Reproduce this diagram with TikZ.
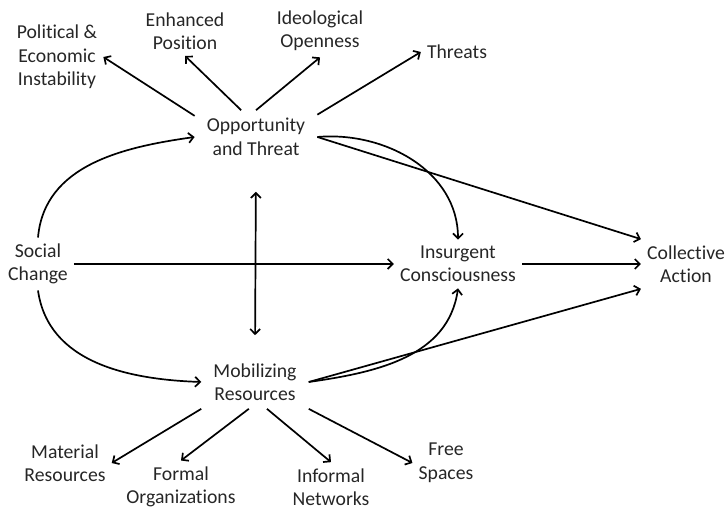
\documentclass[tikz,border=0pt]{standalone}
\usepackage{fontspec}
\setmainfont{Carlito}[Ligatures=NoCommon]
\usepackage{tikz}
\usetikzlibrary{arrows.meta}
\usepackage{xcolor}
\definecolor{labelgrey}{HTML}{262626}
\tikzset{
    leaf-box/.style = {align=center, inner sep=6pt, text=labelgrey, font=\fontsize{19.7}{23.5}\selectfont},
    hub-box/.style = {leaf-box, inner xsep=12pt, inner ysep=8pt},
    flow-arrow/.style = {-{Straight Barb[length=5pt,width=10pt]}, line width=1.7pt},
    both-arrow/.style = {{Straight Barb[length=5pt,width=10pt]}-{Straight Barb[length=5pt,width=10pt]}, line width=1.7pt},
}
\begin{document}
\begin{tikzpicture}[x=1pt, y=1pt]
\useasboundingbox (0,0) rectangle (726,511);
\node [leaf-box] (pol) at (57,454) {Political \&\\Economic\\Instability};
\node [leaf-box] (enh) at (185,480) {Enhanced\\Position};
\node [leaf-box] (ideo) at (320,480) {Ideological\\Openness};
\node [leaf-box] (thr) at (457,459) {Threats};
\node [hub-box] (opp) at (256,374) {Opportunity\\and Threat};
\node [leaf-box] (soc) at (38,247) {Social\\Change};
\node [leaf-box] (ins) at (458,247) {Insurgent\\Consciousness};
\node [leaf-box] (coll) at (686,247) {Collective\\Action};
\node [hub-box] (mob) at (255,129) {Mobilizing\\Resources};
\node [leaf-box] (mat) at (65,48) {Material\\Resources};
\node [leaf-box] (form) at (181,24) {Formal\\Organizations};
\node [leaf-box] (inf) at (331,24) {Informal\\Networks};
\node [leaf-box] (free) at (446,48) {Free\\Spaces};

\draw [flow-arrow] (opp.161) -- (pol.east);
\draw [flow-arrow] (opp.119) -- (enh.south);
\draw [flow-arrow] (opp.north) -- (ideo.south);
\draw [flow-arrow] (opp.20) -- (thr.west);

\draw [flow-arrow] (soc.north) to[out=85, in=188] (opp.west);
\draw [flow-arrow] (soc.south) to[out=-82, in=178] (mob.west);
\draw [flow-arrow] (soc.east) -- (ins.west);
\draw [both-arrow, shorten <=28pt, shorten >=20pt] (opp.south) -- (mob.north);

\draw [flow-arrow] (opp.east) to[out=5, in=90] (ins.north);
\draw [flow-arrow] (opp.east) -- (coll.north west);
\draw [flow-arrow] (ins.east) -- (coll.west);
\draw [flow-arrow] (mob.east) to[out=8, in=-98] (ins.south);
\draw [flow-arrow] (mob.east) -- (coll.south west);

\draw [flow-arrow] (mob.south west) -- (mat.east);
\draw [flow-arrow] (mob.257) -- (form.north);
\draw [flow-arrow] (mob.294) -- (inf.north);
\draw [flow-arrow] (mob.south east) -- (free.west);
\end{tikzpicture}
\end{document}
